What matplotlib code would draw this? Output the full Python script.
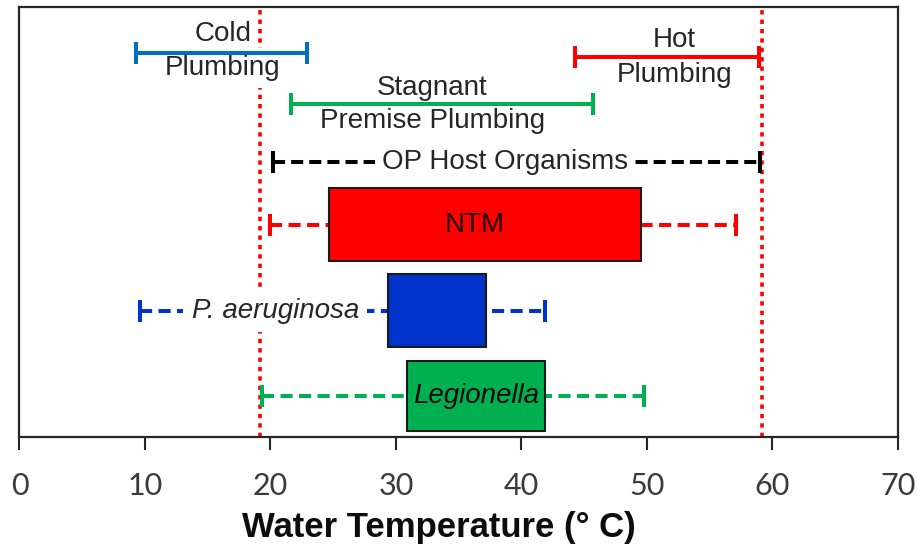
import matplotlib
matplotlib.use("Agg")
import matplotlib.pyplot as plt
from matplotlib.patches import Rectangle

# ---- data (°C) ----
range_names = ["Cold Plumbing", "Hot Plumbing", "Stagnant Premise Plumbing", "OP Host Organisms"]
range_lo = [9.3, 44.3, 21.6, 20.2]
range_hi = [22.9, 58.9, 45.7, 59.0]

organisms = ["NTM", "P. aeruginosa", "Legionella"]
org_min = [20.0, 9.6, 19.3]
org_q1 = [24.7, 29.4, 30.9]
org_q3 = [49.5, 37.2, 41.9]
org_max = [57.1, 41.9, 49.8]

limit_lines = [19.2, 59.2]
xticks = [0, 10, 20, 30, 40, 50, 60, 70]

# ---- layout / style ----
range_y = [0.893, 0.884, 0.774, 0.640]
range_colors = ["#0070C0", "#FF0000", "#00B050", "#000000"]
range_styles = ["-", "-", "-", (0, (3, 1.5))]
org_y = [0.493, 0.293, 0.095]
org_h = [0.170, 0.170, 0.165]
org_colors = ["#FF0000", "#0033CC", "#00B050"]

fig = plt.figure(figsize=(9.17, 5.44), dpi=100)
ax = fig.add_axes([0.0212, 0.197, 0.9580, 0.790])
ax.set_xlim(0, 70)
ax.set_ylim(0, 1)

LW = 2.9
CAP = 0.025

# limit lines
for v in limit_lines:
    ax.axvline(v, color="#FF0000", lw=2.6, linestyle=(0, (1.2, 1.4)), zorder=1)

txt_font = ["Liberation Sans", "DejaVu Sans"]
FS = 20

def capped(x0, x1, y, color, ls, z=4, caps=(True, True)):
    ax.plot([x0, x1], [y, y], color=color, lw=LW, linestyle=ls, zorder=z,
            solid_capstyle="butt", dash_capstyle="butt")
    for x, c in zip((x0, x1), caps):
        if c:
            ax.plot([x, x], [y - CAP, y + CAP], color=color, lw=LW, zorder=z,
                    solid_capstyle="butt")

# range bars
for i, name in enumerate(range_names):
    capped(range_lo[i], range_hi[i], range_y[i], range_colors[i], range_styles[i])

# labels of ranges
ax.text(16.2, 0.938, "Cold", ha="center", va="center", fontsize=FS, family=txt_font,
        color="#262626", zorder=3, bbox=dict(fc="white", ec="none", pad=1))
ax.text(16.2, 0.858, "Plumbing", ha="center", va="center", fontsize=FS, family=txt_font,
        color="#262626", zorder=3, bbox=dict(fc="white", ec="none", pad=5))
ax.text(52.2, 0.923, "Hot", ha="center", va="center", fontsize=FS, family=txt_font,
        color="#262626", zorder=3)
ax.text(52.2, 0.842, "Plumbing", ha="center", va="center", fontsize=FS, family=txt_font,
        color="#262626", zorder=3)
ax.text(32.9, 0.812, "Stagnant", ha="center", va="center", fontsize=FS, family=txt_font,
        color="#262626", zorder=3)
ax.text(32.9, 0.735, "Premise Plumbing", ha="center", va="center", fontsize=FS,
        family=txt_font, color="#262626", zorder=3)
ax.text(38.7, 0.640, "OP Host Organisms", ha="center", va="center", fontsize=FS,
        family=txt_font, color="#262626", zorder=5,
        bbox=dict(fc="white", ec="none", pad=5))

# organism boxes
for i, name in enumerate(organisms):
    y = org_y[i]
    c = org_colors[i]
    capped(org_min[i], org_max[i], y, c, (0, (3, 1.6)), z=2)
    ax.add_patch(Rectangle((org_q1[i], y - org_h[i] / 2), org_q3[i] - org_q1[i], org_h[i],
                           facecolor=c, edgecolor="#1a1a1a", lw=1.5, zorder=6))

ax.text((org_q1[0] + org_q3[0]) / 2 - 0.8, org_y[0], "NTM", ha="center", va="center",
        fontsize=FS, family=txt_font, color="#1a0000", zorder=7)
ax.text(20.4, org_y[1], "P. aeruginosa", ha="center", va="center", fontsize=FS,
        family=txt_font, style="italic", color="#262626", zorder=5,
        bbox=dict(fc="white", ec="none", pad=6))
ax.text((org_q1[2] + org_q3[2]) / 2, org_y[2], "Legionella", ha="center", va="center",
        fontsize=FS, family=txt_font, style="italic", color="#0a0a0a", zorder=7)

# axes styling
ax.set_yticks([])
ax.set_xticks(xticks)
ax.tick_params(axis="x", direction="out", length=9, width=1.5, pad=16, colors="#262626")
ax.set_xticklabels([str(t) for t in xticks], family=["Lato", "DejaVu Sans"], fontsize=22,
                   color="#3a3a3a")
for s in ax.spines.values():
    s.set_linewidth(1.6)
    s.set_color("#262626")
ax.set_xlabel("Water Temperature (° C)", family=["Liberation Sans", "DejaVu Sans"],
              fontsize=25, fontweight="bold", color="#0d0d0d")
ax.xaxis.set_label_coords(0.477, -0.172)

fig.savefig("out.png", dpi=100)
